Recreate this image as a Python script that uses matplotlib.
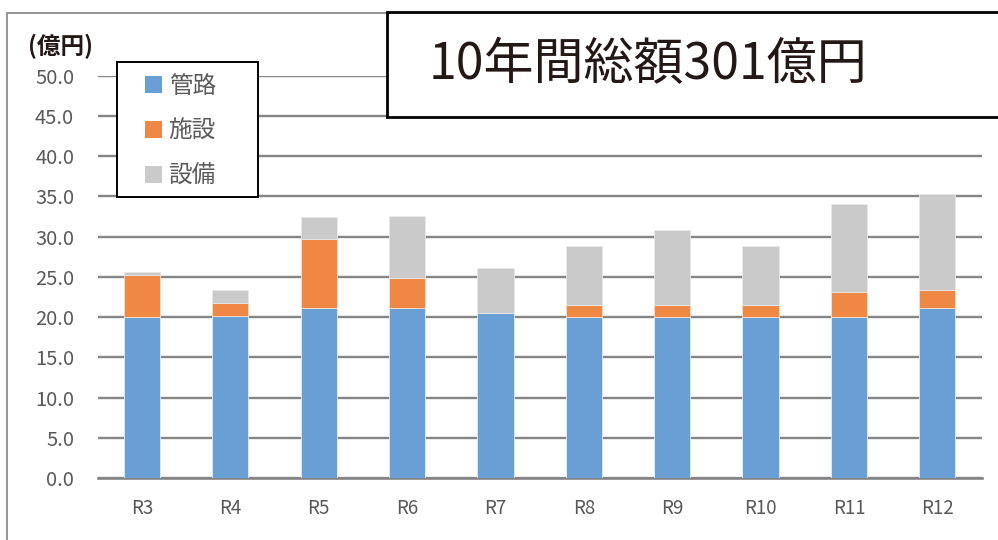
import matplotlib
matplotlib.use("Agg")
import matplotlib.pyplot as plt
from matplotlib.patches import Rectangle
import numpy as np

plt.rcParams['font.family'] = ['Noto Sans CJK JP', 'DejaVu Sans']

categories = ["R3", "R4", "R5", "R6", "R7", "R8", "R9", "R10", "R11", "R12"]
pipes = [20.0, 20.2, 21.2, 21.1, 20.5, 20.0, 20.0, 20.0, 20.0, 21.2]      # 管路
facilities = [5.3, 1.6, 8.5, 3.8, 0.0, 1.5, 1.5, 1.5, 3.1, 2.2]          # 施設
equipment = [0.3, 1.6, 2.8, 7.7, 5.6, 7.3, 9.3, 7.3, 11.0, 11.9]         # 設備
series_names = ["管路", "施設", "設備"]
yticks = [0, 5, 10, 15, 20, 25, 30, 35, 40, 45, 50]
title_text = "10年間総額301億円"
unit_text = "(億円)"

colors = ["#6A9FD6", "#EF8844", "#C9CAC9"]
W, H = 998, 540
fig = plt.figure(figsize=(W / 100, H / 100), dpi=100)

# outer chart frame (gray)
fig.add_artist(Rectangle((7 / W, -0.1), 1.2, 1.1 - 13 / H,
                         transform=fig.transFigure, fill=False,
                         edgecolor="#8C8C8C", linewidth=1.3, zorder=0))

left, right = 97.8 / W, 981.5 / W
bottom, top = 1 - 478.2 / H, 1 - 75.7 / H
ax = fig.add_axes([left, bottom, right - left, top - bottom])
ax.set_zorder(1)

x = np.arange(len(categories))
bw = 0.41
p = np.array(pipes)
f = np.array(facilities)
e = np.array(equipment)
ax.bar(x, p, bw, color=colors[0], label=series_names[0], edgecolor="#E6EEF8", linewidth=0.6, zorder=3)
ax.bar(x, f, bw, bottom=p, color=colors[1], label=series_names[1], edgecolor="#F8E0D0", linewidth=0.6, zorder=3)
ax.bar(x, e, bw, bottom=p + f, color=colors[2], label=series_names[2], edgecolor="#E8E8E8", linewidth=0.6, zorder=3)

ax.set_xlim(-0.5, len(categories) - 0.5)
ax.set_ylim(0, 50)
ax.set_yticks(yticks)
ax.set_yticklabels([f"{v:.1f}" for v in yticks])
ax.set_xticks(x)
ax.set_xticklabels(categories)
ax.grid(axis="y", color="#858585", linewidth=1.7, zorder=0)
ax.set_axisbelow(True)
for s in ["left", "right", "top"]:
    ax.spines[s].set_visible(False)
ax.spines["bottom"].set_color("#858585")
ax.spines["bottom"].set_linewidth(1.9)
ax.tick_params(axis="y", length=0, pad=17, labelsize=14.5, labelcolor="#595959")
ax.tick_params(axis="x", length=0, pad=14, labelsize=13.5, labelcolor="#595959")
ax.patch.set_alpha(0)

# legend box
fig.add_artist(Rectangle((117 / W, 1 - 197 / H), 141 / W, 135 / H,
                         transform=fig.transFigure, facecolor="white",
                         edgecolor="black", linewidth=1.4, zorder=4))
leg = fig.legend(loc="upper left", bbox_to_anchor=(145 / W, 1 - 75 / H),
                 bbox_transform=fig.transFigure, fontsize=17,
                 frameon=False,
                 handlelength=0.7, handleheight=0.7, handletextpad=0.3,
                 labelspacing=0.93, borderpad=0, borderaxespad=0)
leg.set_zorder(6)
for t in leg.get_texts():
    t.set_color("#595959")
for h in leg.legend_handles:
    h.set_edgecolor("none")

# title box
fig.add_artist(Rectangle((387 / W, 1 - 117 / H), 0.7, 105 / H,
                         transform=fig.transFigure, facecolor="white",
                         edgecolor="black", linewidth=2.0, zorder=5))
fig.text(648 / W, 1 - 65 / H, title_text, fontsize=36, color="#231815",
         ha="center", va="center", zorder=6)

fig.text(60 / W, 1 - 46 / H, unit_text, fontsize=17, color="#231815",
         fontweight="bold", ha="center", va="center")

fig.savefig("out.png", dpi=100)
